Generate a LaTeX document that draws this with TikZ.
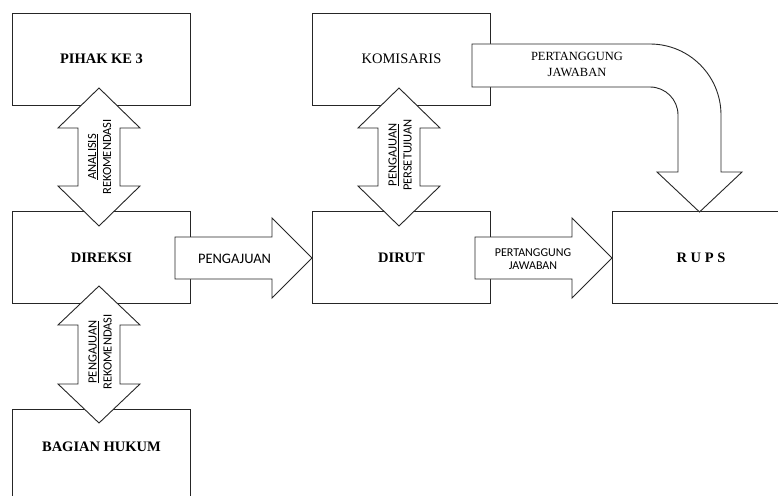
\documentclass[tikz,border=0pt]{standalone}
\usepackage{fontspec}
\setmainfont{Liberation Serif}
\newfontfamily\calibri{Carlito}
\begin{document}
\begin{tikzpicture}[x=1pt,y=-1pt,
  box/.style={draw=black!85, line width=0.9pt, fill=white, minimum width=177.5pt, minimum height=92pt, inner sep=0pt},
  blk/.style={draw=black!85, line width=0.9pt, fill=white, line join=miter},
  boxtxt/.style={font=\fontsize{14.5}{17}\selectfont\bfseries},
  vlab/.style={font=\calibri\fontsize{12.5}{15}\selectfont, rotate=90, align=center, inner sep=0pt},
]
\useasboundingbox (0,0) rectangle (778,495);
\clip (0,0) rectangle (778,495);
% boxes
\node[box, boxtxt] (pihak) at (101.5,59) {PIHAK KE 3};
\node[box, font=\fontsize{14.5}{17}\selectfont] (komisaris) at (401.5,59) {KOMISARIS};
\node[box, boxtxt] (direksi) at (101.5,257.5) {DIREKSI};
\node[box, boxtxt] (dirut) at (401.5,257.5) {DIRUT};
\node[box, boxtxt] (rups) at (701,257.5) {R U P S};
\node[box] (hukum) at (101.5,455) {};
\node[boxtxt] (hukumtxt) at (101.5,447) {BAGIAN HUKUM};
% block arrows
\draw[blk] (78,128) -- (58,128) -- (99,88) -- (140,128) -- (120,128) -- (120,186) -- (140,186) -- (99,226) -- (58,186) -- (78,186) -- cycle;
\draw[blk] (378,128) -- (358,128) -- (399,88) -- (440,128) -- (420,128) -- (420,186) -- (440,186) -- (399,226) -- (358,186) -- (378,186) -- cycle;
\draw[blk] (78,325) -- (58,325) -- (99,286) -- (140,325) -- (120,325) -- (120,384) -- (140,384) -- (99,423) -- (58,384) -- (78,384) -- cycle;
\draw[blk] (175,237) -- (272,237) -- (272,218) -- (312,258) -- (272,298) -- (272,279) -- (175,279) -- cycle;
\draw[blk] (475,237) -- (572,237) -- (572,218) -- (612,258) -- (572,298) -- (572,279) -- (475,279) -- cycle;
\draw[blk] (472,44) -- (650,44) arc[start angle=-90, end angle=0, radius=71] -- (721,172) -- (742,172) -- (699.5,212) -- (657,172) -- (678,172) -- (678,115) arc[start angle=0, end angle=-90, radius=28] -- (472,87) -- cycle;
% arrow labels
\node[vlab] (l1) at (99.5,157) {\underline{ANALISIS}\\REKOMENDASI};
\node[vlab] (l2) at (400,155) {\underline{PENGAJUAN}\\PERSETUJUAN};
\node[vlab] (l3) at (100,352) {\underline{PENGAJUAN}\\REKOMENDASI};
\node[font=\calibri\fontsize{14.5}{17}\selectfont] (t1) at (234.5,259) {PENGAJUAN};
\node[font=\calibri\fontsize{12}{13}\selectfont, align=center] (t2) at (533,259.5) {PERTANGGUNG\\JAWABAN};
\node[font=\fontsize{12.5}{16}\selectfont, align=center] (t3) at (577,64) {PERTANGGUNG\\JAWABAN};
\end{tikzpicture}
\end{document}
